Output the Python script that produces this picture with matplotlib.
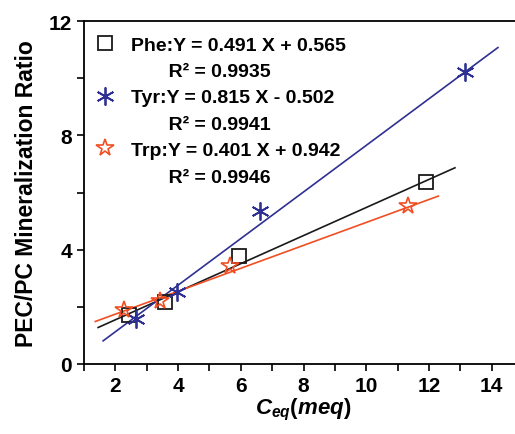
import numpy as np
import matplotlib
matplotlib.use("Agg")
import matplotlib.pyplot as plt
from matplotlib.ticker import MultipleLocator
from matplotlib.lines import Line2D

plt.rcParams['font.family'] = ['Liberation Sans', 'DejaVu Sans']
plt.rcParams['font.weight'] = 'bold'
plt.rcParams['mathtext.fontset'] = 'custom'
plt.rcParams['mathtext.it'] = 'Liberation Sans:italic:bold'
plt.rcParams['mathtext.rm'] = 'Liberation Sans:bold'

# data
phe_x = [2.42, 3.59, 5.95, 11.9]
phe_y = [1.71, 2.16, 3.77, 6.38]
tyr_x = [2.67, 3.97, 6.60, 13.15]
tyr_y = [1.57, 2.51, 5.36, 10.23]
trp_x = [2.27, 3.43, 5.67, 11.34]
trp_y = [1.89, 2.21, 3.44, 5.52]

# fitted lines: slope, intercept, x range
phe_fit = (0.491, 0.565, 1.45, 12.83)
tyr_fit = (0.815, -0.502, 1.61, 14.2)
trp_fit = (0.401, 0.942, 1.36, 12.3)

labels = ["Phe:Y = 0.491 X + 0.565", "R\u00b2 = 0.9935",
          "Tyr:Y = 0.815 X - 0.502", "R\u00b2 = 0.9941",
          "Trp:Y = 0.401 X + 0.942", "R\u00b2 = 0.9946"]

black = '#1a1a1a'
blue = '#2e3192'
red = '#f04e23'

fig = plt.figure(figsize=(5.15, 4.35), dpi=100)
ax = fig.add_axes([84/515, 70/435, 439/515, 343/435])

for (m, b, x0, x1), c in [(phe_fit, black), (tyr_fit, blue), (trp_fit, red)]:
    xx = np.array([x0, x1])
    ax.plot(xx, m*xx + b, color=c, lw=1.2)

ast = (6, 2, 0)
ax.plot(phe_x, phe_y, ls='none', marker='s', ms=9.5, mfc='none', mec=black, mew=1.3)
ax.plot(tyr_x, tyr_y, ls='none', marker=ast, ms=13, mec=blue, mew=1.3)
ax.plot(trp_x, trp_y, ls='none', marker='*', ms=13, mfc='none', mec=red, mew=1.2)

ax.set_xlim(1, 15)
ax.set_ylim(0, 12)
ax.xaxis.set_minor_locator(MultipleLocator(1))
ax.yaxis.set_major_locator(MultipleLocator(4))
ax.yaxis.set_minor_locator(MultipleLocator(2))
ax.set_xticks([2, 4, 6, 8, 10, 12, 14])
ax.tick_params(which='both', direction='out', length=5, width=1.2, labelsize=15)
ax.tick_params(top=False, right=False)
for s in ax.spines.values():
    s.set_linewidth(1.3)

ax.set_xlabel(r"$C_{eq}(meq)$", fontsize=16, labelpad=1)
ax.set_ylabel("PEC/PC Mineralization Ratio", fontsize=16.5, fontweight='bold', labelpad=8)

blank = Line2D([], [], ls='none')
handles = [
    Line2D([], [], ls='none', marker='s', ms=9.5, mfc='none', mec=black, mew=1.3), blank,
    Line2D([], [], ls='none', marker=ast, ms=13, mec=blue, mew=1.3), blank,
    Line2D([], [], ls='none', marker='*', ms=13, mfc='none', mec=red, mew=1.2), blank,
]
shown = [labels[0], "       " + labels[1], labels[2], "       " + labels[3],
         labels[4], "       " + labels[5]]
ax.legend(handles, shown, loc='upper left', frameon=False, fontsize=14,
          handlelength=1.0, handletextpad=0.8, labelspacing=0.45,
          borderaxespad=0.2, bbox_to_anchor=(0.0, 0.99))

fig.savefig('out.png', dpi=100)
